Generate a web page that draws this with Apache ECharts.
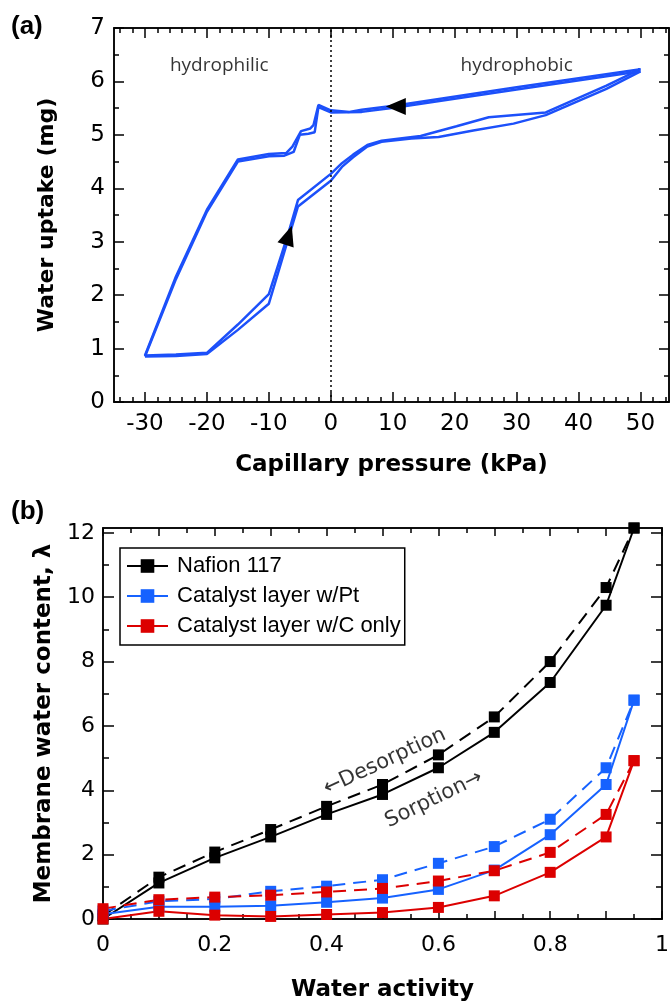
<!DOCTYPE html>
<html>
<head>
<meta charset="utf-8">
<script src="https://cdn.jsdelivr.net/npm/echarts@6/dist/echarts.min.js"></script>
<style>
html, body { margin: 0; padding: 0; background: #fff; }
#chart { width: 672px; height: 1004px; }
</style>
</head>
<body>
<div id="chart"></div>
<script>
// ---- panel (a): water uptake vs capillary pressure, two cycles [kPa, mg]
var loopCycle1 = [
	[-30, 0.87], [-25, 0.89], [-20, 0.92], [-15, 1.45], [-10, 2.02], [-6.8, 3.18], [-5.3, 3.78],
	[0, 4.27], [1.8, 4.47], [3.6, 4.63], [5.9, 4.81], [8.2, 4.89], [14.5, 4.98], [20.3, 5.16],
	[25.5, 5.33], [34.7, 5.42], [44.5, 5.92], [50, 6.23],
	[30, 5.89], [10.5, 5.55], [5, 5.47], [3, 5.43], [0, 5.46], [-2, 5.56], [-2.8, 5.18],
	[-3.3, 5.12], [-4.8, 5.07], [-6.2, 4.78], [-7.2, 4.66], [-10, 4.64], [-15, 4.54],
	[-20, 3.6], [-25, 2.35], [-30, 0.87]
];
var loopCycle2 = [
	[-30, 0.85], [-25, 0.86], [-20, 0.9], [-15, 1.35], [-10, 1.84], [-6.8, 3.08], [-5.3, 3.66],
	[0, 4.14], [1.8, 4.4], [3.6, 4.58], [5.9, 4.78], [8.2, 4.87], [13, 4.93], [17.4, 4.96],
	[23, 5.08], [29.5, 5.21], [34.7, 5.37], [44.5, 5.86], [50, 6.19],
	[30, 5.85], [10.5, 5.51], [5, 5.43], [0, 5.42], [-2, 5.52], [-2.6, 5.05], [-3.6, 5.02],
	[-5, 5.0], [-6, 4.68], [-7.5, 4.61], [-10, 4.6], [-15, 4.5], [-20, 3.56], [-25, 2.3], [-30, 0.85]
];
var arrowPointsA = [[10.5, 5.53], [-6.8, 3.12]];
var regionNames = ['hydrophilic', 'hydrophobic'];
var regionSpots = [[-18, 6.3], [30, 6.3]];

var xLabelsA = [-30, -20, -10, 0, 10, 20, 30, 40, 50];
var xMinorA = [-34, -32, -28, -26, -24, -22, -18, -16, -14, -12, -8, -6, -4, -2, 2, 4, 6, 8, 12, 14, 16, 18,
	22, 24, 26, 28, 32, 34, 36, 38, 42, 44, 46, 48, 52, 54];
var yLabelsA = [0, 1, 2, 3, 4, 5, 6, 7];
var yMinorA = [0.5, 1.5, 2.5, 3.5, 4.5, 5.5, 6.5];

// ---- panel (b): membrane water content vs water activity
var activity = [0, 0.1, 0.2, 0.3, 0.4, 0.5, 0.6, 0.7, 0.8, 0.9, 0.95];
var nafionSorption = [0, 1.12, 1.9, 2.55, 3.25, 3.87, 4.7, 5.8, 7.35, 9.75, 12.15];
var nafionDesorption = [0.1, 1.3, 2.08, 2.78, 3.5, 4.18, 5.1, 6.28, 8.0, 10.3, 12.15];
var ptSorption = [0.15, 0.38, 0.38, 0.41, 0.52, 0.65, 0.92, 1.52, 2.62, 4.18, 6.8];
var ptDesorption = [0.25, 0.55, 0.62, 0.86, 1.02, 1.22, 1.73, 2.25, 3.1, 4.7, 6.8];
var cSorption = [0, 0.24, 0.12, 0.08, 0.14, 0.2, 0.36, 0.72, 1.45, 2.55, 4.92];
var cDesorption = [0.32, 0.6, 0.68, 0.74, 0.84, 0.95, 1.18, 1.5, 2.07, 3.25, 4.92];
var materials = ['Nafion 117', 'Catalyst layer w/Pt', 'Catalyst layer w/C only'];
var arrowNotes = ['\u2190Desorption', 'Sorption\u2192'];
var arrowNoteSpots = [[0.504, 4.89], [0.592, 3.72]];

var xLabelsB = [0, 0.2, 0.4, 0.6, 0.8, 1];
var xMajorB = [0, 0.1, 0.2, 0.3, 0.4, 0.5, 0.6, 0.7, 0.8, 0.9, 1];
var xMinorB = [0.05, 0.15, 0.25, 0.35, 0.45, 0.55, 0.65, 0.75, 0.85, 0.95];
var yLabelsB = [0, 2, 4, 6, 8, 10, 12];
var yMinorB = [1, 3, 5, 7, 9, 11];

var BLUE_A = '#1c50fa';
var BLACK = '#000000';
var BLUE = '#1662ff';
var RED = '#dc0000';

function pair(xs, ys) {
	return xs.map(function (x, i) { return [x, ys[i]]; });
}

// one axis only carrying ticks (and optionally labels / name)
function tickAxis(gridIndex, position, min, max, ticks, len, extra) {
	var ax = {
		gridIndex: gridIndex,
		type: 'value',
		position: position,
		min: min,
		max: max,
		axisLine: { show: true, onZero: false, lineStyle: { color: BLACK, width: 1.5 } },
		axisTick: { show: true, inside: true, length: len, customValues: ticks, lineStyle: { color: BLACK, width: 1.5 } },
		axisLabel: { show: false },
		splitLine: { show: false }
	};
	if (extra) {
		for (var k in extra) ax[k] = extra[k];
	}
	return ax;
}

function labelStyle(values, size, margin) {
	return { show: true, customValues: values, fontSize: size, margin: margin, color: BLACK, fontFamily: 'DejaVu Sans' };
}
function nameStyle(size) {
	return { fontSize: size, fontWeight: 'bold', color: BLACK, fontFamily: 'DejaVu Sans' };
}
var panelTag = { fontSize: 26, fontWeight: 'bold', fontFamily: 'Liberation Sans', color: BLACK };

var chart = echarts.init(document.getElementById('chart'));

var option = {
	animation: false,
	backgroundColor: '#fff',
	title: [
		{ text: '(a)', left: 11, top: 14, padding: 0, textStyle: panelTag },
		{ text: '(b)', left: 11, top: 499, padding: 0, textStyle: panelTag }
	],
	grid: [
		{ left: 114, top: 28, width: 555, height: 374 },
		{ left: 103, top: 528, width: 565, height: 391 }
	],
	legend: {
		data: materials,
		orient: 'vertical',
		left: 120,
		top: 548,
		padding: [7, 4, 8, 6],
		itemWidth: 41,
		itemHeight: 17,
		itemGap: 8,
		borderColor: BLACK,
		borderWidth: 1.5,
		selectedMode: false,
		textStyle: { fontSize: 22, fontFamily: 'Liberation Sans', color: BLACK, padding: [0, 0, 0, 4] }
	},
	xAxis: [
		tickAxis(0, 'bottom', -35, 54.6, xLabelsA, 10, {
			axisLabel: labelStyle(xLabelsA, 23, 11),
			name: 'Capillary pressure (kPa)', nameLocation: 'middle', nameGap: 52, nameTextStyle: nameStyle(23)
		}),
		tickAxis(0, 'bottom', -35, 54.6, xMinorA, 5),
		tickAxis(0, 'top', -35, 54.6, xLabelsA, 10),
		tickAxis(0, 'top', -35, 54.6, xMinorA, 5),
		tickAxis(1, 'bottom', 0, 1, xMajorB, 8, {
			axisLabel: labelStyle(xLabelsB, 22, 15),
			name: 'Water activity', nameLocation: 'middle', nameGap: 60, nameTextStyle: nameStyle(23)
		}),
		tickAxis(1, 'bottom', 0, 1, xMinorB, 5),
		tickAxis(1, 'top', 0, 1, xMajorB, 8),
		tickAxis(1, 'top', 0, 1, xMinorB, 5)
	],
	yAxis: [
		tickAxis(0, 'left', 0, 7, yLabelsA, 10, {
			axisLabel: labelStyle(yLabelsA, 23, 9),
			name: 'Water uptake (mg)', nameLocation: 'middle', nameGap: 56, nameTextStyle: nameStyle(22)
		}),
		tickAxis(0, 'left', 0, 7, yMinorA, 5),
		tickAxis(0, 'right', 0, 7, yLabelsA, 10),
		tickAxis(0, 'right', 0, 7, yMinorA, 5),
		tickAxis(1, 'left', 0, 12.15, yLabelsB, 11, {
			axisLabel: labelStyle(yLabelsB, 22, 8),
			name: 'Membrane water content, \u03bb', nameLocation: 'middle', nameGap: 47, nameTextStyle: nameStyle(23)
		}),
		tickAxis(1, 'left', 0, 12.15, yMinorB, 6),
		tickAxis(1, 'right', 0, 12.15, yLabelsB, 11),
		tickAxis(1, 'right', 0, 12.15, yMinorB, 6)
	],
	series: []
};

// panel (a)
option.series.push({
	type: 'line', xAxisIndex: 0, yAxisIndex: 0, data: loopCycle1, showSymbol: false,
	lineStyle: { color: BLUE_A, width: 2.5 }, silent: true,
	markLine: {
		silent: true, symbol: ['none', 'none'], label: { show: false },
		lineStyle: { color: BLACK, width: 1.5, type: [2, 3] },
		data: [{ xAxis: 0 }]
	}
});
option.series.push({
	type: 'line', xAxisIndex: 0, yAxisIndex: 0, data: loopCycle2, showSymbol: false,
	lineStyle: { color: BLUE_A, width: 2.5 }, silent: true
});
var arrowTurns = [90, -18];
option.series.push({
	type: 'scatter', xAxisIndex: 0, yAxisIndex: 0, symbol: 'triangle', symbolSize: [17, 20],
	itemStyle: { color: BLACK, opacity: 1 }, z: 5, silent: true,
	data: arrowPointsA.map(function (p, i) { return { value: p, symbolRotate: arrowTurns[i] }; })
});
option.series.push({
	type: 'scatter', xAxisIndex: 0, yAxisIndex: 0, symbolSize: 0, silent: true,
	label: { show: true, position: 'inside', formatter: '{b}', fontSize: 19, fontFamily: 'Open Sans', color: BLACK },
	data: regionSpots.map(function (p, i) { return { name: regionNames[i], value: p }; })
});

// panel (b)
var groups = [
	{ name: materials[0], color: BLACK, sorp: nafionSorption, desorp: nafionDesorption },
	{ name: materials[1], color: BLUE, sorp: ptSorption, desorp: ptDesorption },
	{ name: materials[2], color: RED, sorp: cSorption, desorp: cDesorption }
];
groups.forEach(function (g) {
	option.series.push({
		type: 'line', name: g.name, xAxisIndex: 4, yAxisIndex: 4, data: pair(activity, g.sorp),
		symbol: 'rect', symbolSize: 11, itemStyle: { color: g.color },
		lineStyle: { color: g.color, width: 2 }, silent: true
	});
	option.series.push({
		type: 'line', name: g.name, xAxisIndex: 4, yAxisIndex: 4, data: pair(activity, g.desorp),
		symbol: 'rect', symbolSize: 11, itemStyle: { color: g.color },
		lineStyle: { color: g.color, width: 2, type: [13, 8] }, silent: true
	});
});
var noteTurns = [25, 26];
option.series.push({
	type: 'scatter', xAxisIndex: 4, yAxisIndex: 4, symbolSize: 0, silent: true,
	label: { show: true, position: 'inside', formatter: '{b}', fontSize: 21, fontFamily: 'DejaVu Sans', color: BLACK },
	data: arrowNoteSpots.map(function (p, i) {
		return { name: arrowNotes[i], value: p, label: { rotate: noteTurns[i] } };
	})
});

chart.setOption(option);
</script>
</body>
</html>
